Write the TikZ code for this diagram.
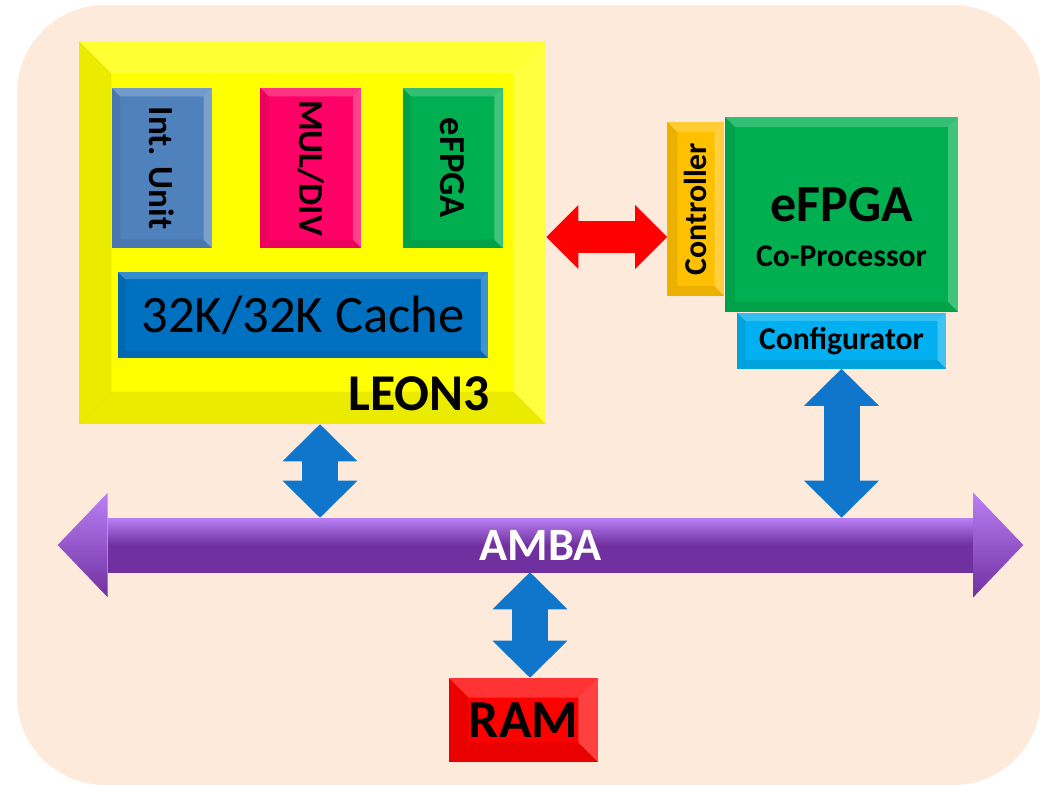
\documentclass[tikz,border=0pt]{standalone}
\usepackage{fontspec}
\setmainfont{Carlito}
\usepackage{graphicx}
\usetikzlibrary{positioning,calc,arrows.meta}
\definecolor{peachbg}{RGB}{253,234,218}
\definecolor{leonyellow}{RGB}{255,255,0}
\definecolor{intblue}{RGB}{79,129,189}
\definecolor{mulpink}{RGB}{255,0,102}
\definecolor{fpgagreen}{RGB}{0,176,80}
\definecolor{cacheblue}{RGB}{0,112,192}
\definecolor{ctrlorange}{RGB}{255,192,0}
\definecolor{confcyan}{RGB}{0,176,240}
\definecolor{ambapurple}{RGB}{112,48,160}
\definecolor{ambalight}{RGB}{185,128,245}
\definecolor{busblue}{RGB}{16,118,204}
\definecolor{ramred}{RGB}{255,0,0}
\newcommand{\fsz}[2]{\fontsize{#1}{#2}\selectfont}
\tikzset{bev/.style={path picture={
  \coordinate (bnw) at (path picture bounding box.north west); \coordinate (bne) at (path picture bounding box.north east);
  \coordinate (bsw) at (path picture bounding box.south west); \coordinate (bse) at (path picture bounding box.south east);
  \fill[white,opacity=.2](bnw)--(bne)--([xshift=-#1,yshift=-#1]bne)--([xshift=#1,yshift=-#1]bnw)--cycle;
  \fill[black,opacity=.08](bnw)--([xshift=#1,yshift=-#1]bnw)--([xshift=#1,yshift=#1]bsw)--(bsw)--cycle;
  \fill[white,opacity=.25](bne)--(bse)--([xshift=-#1,yshift=#1]bse)--([xshift=-#1,yshift=-#1]bne)--cycle;
  \fill[black,opacity=.08](bsw)--([xshift=#1,yshift=#1]bsw)--([xshift=-#1,yshift=#1]bse)--(bse)--cycle;}}}

\begin{document}
\begin{tikzpicture}[x=0.025cm,y=-0.025cm,blk/.style={inner sep=0pt,align=center},sz/.style 2 args={minimum width=#1*0.025cm,minimum height=#2*0.025cm},
 vbus/.style={draw=busblue,line width=25.6pt,>={Triangle[length=26.3pt,width=53.3pt,line width=0pt]},<->},
 hbus/.style={draw=ramred,line width=22.8pt,>={Triangle[length=22.8pt,width=45.5pt,line width=0pt]},<->}]
\useasboundingbox (0,0) rectangle (1040,784);
\fill[peachbg,rounded corners=2.2cm] (17,5) rectangle (1041,785);
% LEON3 processor
\node[blk,sz={467}{383},fill=leonyellow,bev=23pt](leon) at (312.5,232.5){};
\node[blk,sz={100}{160},fill=intblue,bev=6pt](intu) at (162,168){\rotatebox{-90}{\fsz{25pt}{30pt}\bfseries Int. Unit}};
\node[blk,sz={101}{160},fill=mulpink,bev=6pt,right=34pt of intu](mul){\rotatebox{-90}{\fsz{25pt}{30pt}\bfseries MUL/DIV}};
\node[blk,sz={100}{160},fill=fpgagreen,bev=6pt,right=29pt of mul](fpga){\rotatebox{-90}{\fsz{26pt}{30pt}\bfseries eFPGA}};
\node[blk,sz={370}{86},fill=cacheblue,bev=5pt](cache) at (303,315){\fsz{37.4pt}{40pt}32K/32K Cache};
\node[blk,anchor=base east](leontxt) at (490,410){\fsz{36.7pt}{40pt}\bfseries LEON3};
% co-processor
\node[blk,sz={233}{195},fill=fpgagreen,bev=7pt](cop) at (841.5,214.5){};
\node[blk,anchor=base](coptxt) at ([yshift=-5.3pt]cop.center){\fsz{37pt}{40pt}\bfseries eFPGA};
\node[blk,anchor=base](copsub) at ([yshift=-37.3pt]cop.center){\fsz{22.5pt}{26pt}\bfseries Co-Processor};
\node[blk,sz={57}{174},fill=ctrlorange,bev=7pt,anchor=north east](ctrl) at ([yshift=-3.6pt]cop.north west){\rotatebox{90}{\fsz{22.6pt}{26pt}\bfseries Controller}};
\node[blk,sz={209}{56},fill=confcyan,bev=6pt,below=0pt of cop](conf){\fsz{22.5pt}{26pt}\bfseries Configurator};
% bus and memory
\node[blk,sz={865}{54},top color=ambalight,bottom color=ambapurple,middle color=ambapurple,text=white](amba) at (540.5,545){\fsz{33pt}{36pt}\bfseries AMBA};
\shade[top color=ambalight,bottom color=ambapurple]([yshift=17.8pt]amba.north west)--([xshift=-35.6pt]amba.west)--([yshift=-17.8pt]amba.south west)--cycle;
\shade[top color=ambalight,bottom color=ambapurple]([yshift=17.8pt]amba.north east)--([xshift=35.6pt]amba.east)--([yshift=-17.8pt]amba.south east)--cycle;
\node[blk,sz={149}{84},fill=ramred,bev=14pt](ram) at (523.5,720){\fsz{38pt}{40pt}\bfseries RAM};
\coordinate (lx) at (320,0); \coordinate (rx) at (530,0); \coordinate (ry) at (0,237);
\draw[vbus](leon.south -| lx)--(amba.north -| lx); \draw[vbus](conf.south)--(amba.north -| conf.south);
\draw[vbus](amba.south -| rx)--(ram.north -| rx); \draw[hbus](leon.east |- ry)--(ctrl.west |- ry);
\end{tikzpicture}
\end{document}
